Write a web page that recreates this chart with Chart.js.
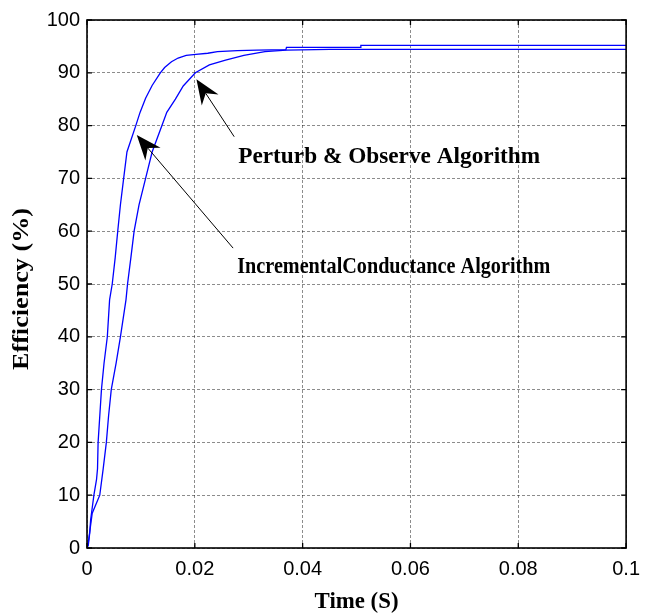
<!DOCTYPE html>
<html><head><meta charset="utf-8">
<script src="https://cdn.jsdelivr.net/npm/chart.js@4.4.0/dist/chart.umd.min.js"></script>
<style>html,body{margin:0;padding:0;background:#fff}#wrap{width:649px;height:616px}</style>
</head><body><div id="wrap"><canvas id="c" width="649" height="616"></canvas></div>
<script>
// ---- data ----
const icTime = [0, 0.00024, 0.0005, 0.00067, 0.00128, 0.00177, 0.00195, 0.00206, 0.00237, 0.00268, 0.00316, 0.00377, 0.00419, 0.00468, 0.00523, 0.0057, 0.0062, 0.0068, 0.00741, 0.00905, 0.00984, 0.01087, 0.01208, 0.0136, 0.0144, 0.01567, 0.0169, 0.0184, 0.0202, 0.0224, 0.0242, 0.0279, 0.0315, 0.0369, 0.0370, 0.0507, 0.0508, 0.1];
const icEff  = [0, 0.5, 2.8, 5.3, 10, 13, 15, 20, 25, 30, 35, 40, 47, 50, 55, 60, 65, 70, 75, 80, 82.5, 85.2, 87.6, 90, 91, 92.1, 92.8, 93.3, 93.5, 93.7, 94.0, 94.2, 94.3, 94.4, 94.8, 94.8, 95.2, 95.2];
const poTime = [0, 0.00024, 0.00097, 0.00237, 0.003, 0.00359, 0.004, 0.0045, 0.0054, 0.0062, 0.00723, 0.00752, 0.00814, 0.00874, 0.00965, 0.01087, 0.01208, 0.0139, 0.0148, 0.0164, 0.01785, 0.0201, 0.0227, 0.0257, 0.0291, 0.033, 0.037, 0.045, 0.1];
const poEff  = [0, 1, 6.6, 10, 15, 20, 25, 30, 35, 40, 47, 50, 55, 60, 65, 70, 75, 80, 82.5, 85, 87.5, 90, 91.5, 92.4, 93.3, 94.0, 94.3, 94.45, 94.45];
const xTicks = [0, 0.02, 0.04, 0.06, 0.08, 0.1];
const yTicks = [0, 10, 20, 30, 40, 50, 60, 70, 80, 90, 100];
const xTitle = 'Time (S)';
const yTitle = 'Efficiency (%)';
const noteTexts = ['Perturb & Observe Algorithm', 'IncrementalConductance Algorithm'];
const noteAnchor = [[0.02805, 73.0], [0.02787, 52.1]];
const arrowTail = [[0.0273, 77.9], [0.0271, 56.8]];
const arrowTip  = [[0.0203, 88.8], [0.00923, 78.2]];

// ---- styles ----
const STYLE = { noteWidths:[302, 313], xTitleWidth:84, yTitleLength:162, yTitleX:22, yTitleShift:5, xTitleBaseline:608 };

function pts(xs, ys){ return xs.map((x,i)=>({x:x, y:ys[i]})); }
function fitText(ctx, t, x, y, w, align){
  const m = ctx.measureText(t).width, k = w/m;
  ctx.save(); ctx.translate(x, y); ctx.scale(k, 1);
  ctx.textAlign = align; ctx.fillText(t, 0, 0); ctx.restore();
}

const decor = {
  id:'decor',
  afterDatasetsDraw(chart){
    const {ctx, chartArea:a, scales:{x, y}} = chart;
    ctx.save();
    ctx.strokeStyle='#000'; ctx.lineWidth=1.6;
    ctx.strokeRect(a.left, a.top, a.right-a.left, a.bottom-a.top);
    ctx.lineWidth=1.3;
    ctx.beginPath();
    xTicks.forEach(v=>{ const px=x.getPixelForValue(v);
      ctx.moveTo(px,a.bottom); ctx.lineTo(px,a.bottom-5);
      ctx.moveTo(px,a.top); ctx.lineTo(px,a.top+5); });
    yTicks.forEach(v=>{ const py=y.getPixelForValue(v);
      ctx.moveTo(a.left,py); ctx.lineTo(a.left+5,py);
      ctx.moveTo(a.right,py); ctx.lineTo(a.right-5,py); });
    ctx.stroke();
    ctx.fillStyle='#000'; ctx.strokeStyle='#000';
    ctx.font='bold 23px "Liberation Serif"';
    ctx.textBaseline='alphabetic';
    noteTexts.forEach((t,i)=>{
      fitText(ctx, t, x.getPixelForValue(noteAnchor[i][0]), y.getPixelForValue(noteAnchor[i][1]), STYLE.noteWidths[i], 'left');
      const x1=x.getPixelForValue(arrowTail[i][0]), y1=y.getPixelForValue(arrowTail[i][1]);
      const x2=x.getPixelForValue(arrowTip[i][0]), y2=y.getPixelForValue(arrowTip[i][1]);
      const dx=x2-x1, dy=y2-y1, L=Math.hypot(dx,dy), ux=dx/L, uy=dy/L;
      const hl=25, hw=10, notch=17;
      const bx=x2-ux*hl, by=y2-uy*hl, nx=x2-ux*notch, ny=y2-uy*notch;
      ctx.lineWidth=1;
      ctx.beginPath(); ctx.moveTo(x1,y1); ctx.lineTo(nx,ny); ctx.stroke();
      ctx.beginPath(); ctx.moveTo(x2,y2); ctx.lineTo(bx-uy*hw, by+ux*hw); ctx.lineTo(nx,ny); ctx.lineTo(bx+uy*hw, by-ux*hw); ctx.closePath(); ctx.fill();
    });
    fitText(ctx, xTitle, (a.left+a.right)/2, STYLE.xTitleBaseline, STYLE.xTitleWidth, 'center');
    ctx.translate(STYLE.yTitleX, (a.top+a.bottom)/2 + STYLE.yTitleShift);
    ctx.rotate(-Math.PI/2);
    ctx.textBaseline='middle';
    fitText(ctx, yTitle, 0, 0, STYLE.yTitleLength, 'center');
    ctx.restore();
  }
};

new Chart(document.getElementById('c'), {
  type:'line',
  data:{ datasets:[
    {label:'Incremental Conductance', data:pts(icTime, icEff), borderColor:'#0000ff', borderWidth:1.3, pointRadius:0, fill:false, tension:0},
    {label:'Perturb & Observe', data:pts(poTime, poEff), borderColor:'#0000ff', borderWidth:1.3, pointRadius:0, fill:false, tension:0}
  ]},
  options:{
    responsive:false, animation:false, devicePixelRatio:1,
    layout:{padding:{left:0, top:20, right:13, bottom:0}},
    plugins:{legend:{display:false}, tooltip:{enabled:false}},
    scales:{
      x:{ type:'linear', min:0, max:0.1,
          afterBuildTicks(s){ s.ticks = xTicks.map(v=>({value:v})); },
          afterFit(s){ s.height = 68; },
          grid:{color:'rgba(0,0,0,0.45)', lineWidth:1, drawTicks:false},
          border:{display:false, dash:[3,2]},
          ticks:{padding:9, color:'#000', maxRotation:0, font:{family:'"Liberation Sans"', size:20},
                 callback:(v)=>String(Math.round(v*100)/100)} },
      y:{ type:'linear', min:0, max:100,
          afterBuildTicks(s){ s.ticks = yTicks.map(v=>({value:v})); },
          afterFit(s){ s.width = 87; },
          grid:{color:'rgba(0,0,0,0.45)', lineWidth:1, drawTicks:false},
          border:{display:false, dash:[3,2]},
          ticks:{padding:7, color:'#000', font:{family:'"Liberation Sans"', size:20},
                 callback:(v)=>String(v)} }
    }
  },
  plugins:[decor]
});
</script></body></html>
